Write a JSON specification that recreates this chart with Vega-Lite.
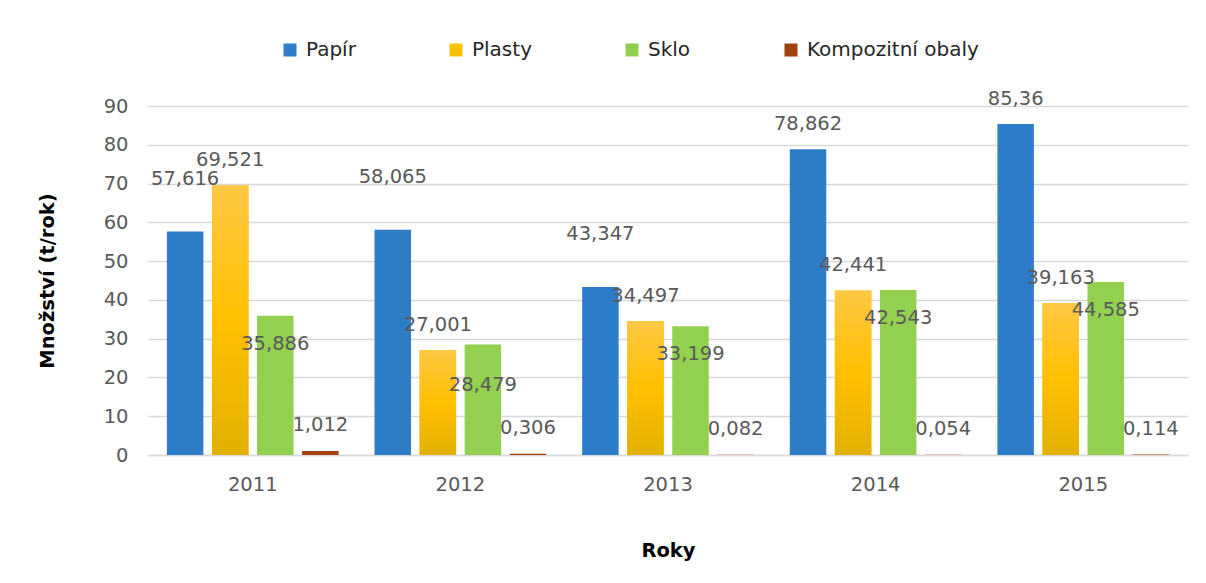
{
  "$schema": "https://vega.github.io/schema/vega-lite/v6.json",
  "autosize": {"type": "none"},
  "padding": {"left": 148, "top": 106, "right": 18, "bottom": 128},
  "width": 1040,
  "height": 349,
  "background": "white",
  "config": {
    "font": "DejaVu Sans",
    "view": {"stroke": null}
  },
  "data": {
    "values": [
      {"year": "2011", "series": "Papír", "value": 57.616, "label": "57,616"},
      {"year": "2011", "series": "Plasty", "value": 69.521, "label": "69,521"},
      {"year": "2011", "series": "Sklo", "value": 35.886, "label": "35,886"},
      {"year": "2011", "series": "Kompozitní obaly", "value": 1.012, "label": "1,012"},
      {"year": "2012", "series": "Papír", "value": 58.065, "label": "58,065"},
      {"year": "2012", "series": "Plasty", "value": 27.001, "label": "27,001"},
      {"year": "2012", "series": "Sklo", "value": 28.479, "label": "28,479"},
      {"year": "2012", "series": "Kompozitní obaly", "value": 0.306, "label": "0,306"},
      {"year": "2013", "series": "Papír", "value": 43.347, "label": "43,347"},
      {"year": "2013", "series": "Plasty", "value": 34.497, "label": "34,497"},
      {"year": "2013", "series": "Sklo", "value": 33.199, "label": "33,199"},
      {"year": "2013", "series": "Kompozitní obaly", "value": 0.082, "label": "0,082"},
      {"year": "2014", "series": "Papír", "value": 78.862, "label": "78,862"},
      {"year": "2014", "series": "Plasty", "value": 42.441, "label": "42,441"},
      {"year": "2014", "series": "Sklo", "value": 42.543, "label": "42,543"},
      {"year": "2014", "series": "Kompozitní obaly", "value": 0.054, "label": "0,054"},
      {"year": "2015", "series": "Papír", "value": 85.36, "label": "85,36"},
      {"year": "2015", "series": "Plasty", "value": 39.163, "label": "39,163"},
      {"year": "2015", "series": "Sklo", "value": 44.585, "label": "44,585"},
      {"year": "2015", "series": "Kompozitní obaly", "value": 0.114, "label": "0,114"}
    ]
  },
  "encoding": {
    "x": {
      "field": "year", "type": "nominal",
      "scale": {"paddingInner": 0.173, "paddingOuter": 0.091},
      "axis": {
        "title": "Roky", "labelAngle": 0, "labelFontSize": 19.5, "labelColor": "#595959",
        "labelPadding": 20, "ticks": false, "domainColor": "#D9D9D9", "domainWidth": 1.5,
        "titleFontSize": 19.5, "titleFontWeight": "bold", "titleColor": "#000000", "titlePadding": 48
      }
    },
    "xOffset": {
      "field": "series", "type": "nominal",
      "sort": ["Papír", "Plasty", "Sklo", "Kompozitní obaly"],
      "scale": {"paddingInner": 0.19, "paddingOuter": 0}
    },
    "y": {
      "field": "value", "type": "quantitative",
      "scale": {"domain": [0, 90], "nice": false},
      "axis": {
        "title": "Množství (t/rok)", "values": [0, 10, 20, 30, 40, 50, 60, 70, 80, 90],
        "labelFontSize": 19.5, "labelColor": "#595959", "labelPadding": 20,
        "ticks": false, "domain": false, "gridColor": "#D9D9D9", "gridWidth": 1.5,
        "titleFontSize": 19.5, "titleFontWeight": "bold", "titleColor": "#000000", "titlePadding": 46
      }
    }
  },
  "layer": [
    {
      "mark": {"type": "bar"},
      "encoding": {
        "color": {
          "field": "series", "type": "nominal",
          "scale": {
            "domain": ["Papír", "Plasty", "Sklo", "Kompozitní obaly"],
            "range": ["#2E7DC9", "#FFC000", "#92D050", "#A3410D"]
          },
          "legend": {
            "title": null, "orient": "none", "legendX": 132, "legendY": -66,
            "direction": "horizontal", "symbolType": "square", "symbolSize": 169,
            "symbolStrokeWidth": 0, "labelFontSize": 20, "labelColor": "#262626",
            "columnPadding": 90, "labelOffset": 6, "labelLimit": 400
          }
        }
      }
    },
    {
      "transform": [{"filter": "datum.series === 'Plasty'"}],
      "mark": {
        "type": "bar",
        "color": {
          "gradient": "linear", "x1": 0, "y1": 0, "x2": 0, "y2": 1,
          "stops": [
            {"offset": 0, "color": "#FFC844"},
            {"offset": 0.5, "color": "#FFC000"},
            {"offset": 1, "color": "#E2B000"}
          ]
        }
      }
    },
    {
      "transform": [{"filter": "datum.series === 'Papír' && datum.year <= '2013'"}],
      "mark": {"type": "text", "fontSize": 19.5, "color": "#595959", "baseline": "middle", "dy": -53},
      "encoding": {"text": {"field": "label"}}
    },
    {
      "transform": [{"filter": "datum.series === 'Papír' && datum.year > '2013'"}],
      "mark": {"type": "text", "fontSize": 19.5, "color": "#595959", "baseline": "middle", "dy": -25},
      "encoding": {"text": {"field": "label"}}
    },
    {
      "transform": [{"filter": "datum.series === 'Plasty'"}],
      "mark": {"type": "text", "fontSize": 19.5, "color": "#595959", "baseline": "middle", "dy": -25},
      "encoding": {"text": {"field": "label"}}
    },
    {
      "transform": [{"filter": "datum.series === 'Sklo' && datum.year !== '2012'"}],
      "mark": {"type": "text", "fontSize": 19.5, "color": "#595959", "baseline": "middle", "dy": 28},
      "encoding": {"text": {"field": "label"}}
    },
    {
      "transform": [{"filter": "datum.series === 'Sklo' && datum.year === '2012'"}],
      "mark": {"type": "text", "fontSize": 19.5, "color": "#595959", "baseline": "middle", "dy": 40},
      "encoding": {"text": {"field": "label"}}
    },
    {
      "transform": [{"filter": "datum.series === 'Kompozitní obaly'"}],
      "mark": {"type": "text", "fontSize": 19.5, "color": "#595959", "baseline": "middle", "dy": -26},
      "encoding": {"text": {"field": "label"}}
    }
  ]
}
